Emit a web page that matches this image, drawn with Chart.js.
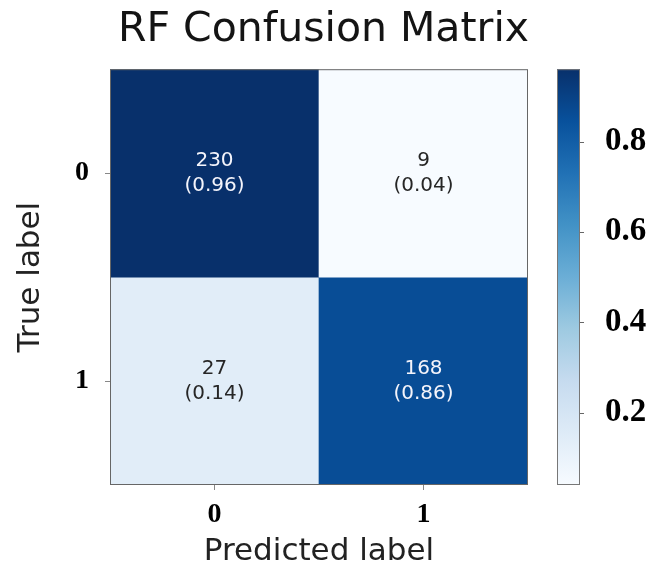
<!DOCTYPE html>
<html>
<head>
<meta charset="utf-8">
<script src="https://cdn.jsdelivr.net/npm/chart.js@4/dist/chart.umd.min.js"></script>
<style>
  html, body { margin: 0; padding: 0; background: #ffffff; }
  canvas { display: block; }
</style>
</head>
<body>
<canvas id="c" width="661" height="570"></canvas>
<script>
// ---- data ----
const chartTitle = 'RF Confusion Matrix';
const predictedLabels = ['0', '1'];
const trueLabels = ['0', '1'];
const countsRow0 = [230, 9];
const countsRow1 = [27, 168];
const ratesRow0 = [0.96, 0.04];
const ratesRow1 = [0.14, 0.86];
const colorbarTicks = [0.2, 0.4, 0.6, 0.8];

const counts = [countsRow0, countsRow1];
const rates = [ratesRow0, ratesRow1];
const allRates = rates.flat();
const vmin = Math.min(...allRates);
const vmax = Math.max(...allRates);

// matplotlib "Blues" colormap stops
const bluesStops = ['#f7fbff', '#deebf7', '#c6dbef', '#9ecae1', '#6baed6', '#4292c6', '#2171b5', '#08519c', '#08306b'];
function hexToRgb(h) { return [parseInt(h.slice(1, 3), 16), parseInt(h.slice(3, 5), 16), parseInt(h.slice(5, 7), 16)]; }
function blues(t) {
  t = Math.max(0, Math.min(1, t));
  const n = bluesStops.length - 1;
  const i = Math.min(n - 1, Math.floor(t * n));
  const f = t * n - i;
  const a = hexToRgb(bluesStops[i]), b = hexToRgb(bluesStops[i + 1]);
  const c = a.map((v, k) => Math.round(v + (b[k] - v) * f));
  return `rgb(${c[0]},${c[1]},${c[2]})`;
}
const norm = v => (v - vmin) / (vmax - vmin);

const datasets = trueLabels.map((lab, r) => ({
  label: 'True ' + lab,
  data: predictedLabels.map(() => [r, r + 1]),
  backgroundColor: rates[r].map(v => blues(norm(v))),
  borderWidth: 0,
  grouped: false,
  barPercentage: 1,
  categoryPercentage: 1,
  yAxisID: 'y'
}));

const cellText = {
  id: 'cellText',
  afterDatasetsDraw(chart) {
    const ctx = chart.ctx;
    ctx.save();
    ctx.font = '20px "DejaVu Sans"';
    ctx.textAlign = 'center';
    ctx.textBaseline = 'middle';
    chart.data.datasets.forEach((ds, r) => {
      const meta = chart.getDatasetMeta(r);
      meta.data.forEach((el, c) => {
        const cy = (el.y + el.base) / 2;
        ctx.fillStyle = norm(rates[r][c]) > 0.5 ? '#f4f4fb' : '#262626';
        ctx.fillText(String(counts[r][c]), el.x, cy - 12.5);
        ctx.fillText('(' + rates[r][c].toFixed(2) + ')', el.x, cy + 12.5);
      });
    });
    // frame
    const a = chart.chartArea;
    ctx.strokeStyle = '#666';
    ctx.lineWidth = 1;
    ctx.strokeRect(a.left + 0.5, a.top + 0.5, a.right - a.left - 1, a.bottom - a.top - 1);
    ctx.restore();
  }
};

const colorbar = {
  id: 'colorbar',
  afterDraw(chart) {
    const s = chart.scales.cb;
    const ctx = chart.ctx;
    const x0 = chart.chartArea.right + 29, x1 = chart.chartArea.right + 52;
    const yTop = s.getPixelForValue(vmax), yBot = s.getPixelForValue(vmin);
    const g = ctx.createLinearGradient(0, yBot, 0, yTop);
    bluesStops.forEach((col, i) => g.addColorStop(i / (bluesStops.length - 1), col));
    ctx.save();
    ctx.fillStyle = g;
    ctx.fillRect(x0, yTop, x1 - x0, yBot - yTop);
    ctx.strokeStyle = '#777';
    ctx.lineWidth = 1;
    ctx.strokeRect(x0 + 0.5, yTop + 0.5, x1 - x0 - 1, yBot - yTop - 1);
    ctx.strokeStyle = '#666';
    colorbarTicks.forEach(v => {
      const y = Math.round(s.getPixelForValue(v)) + 0.5;
      ctx.beginPath();
      ctx.moveTo(x1, y);
      ctx.lineTo(x1 + 4, y);
      ctx.stroke();
    });
    ctx.restore();
  }
};

new Chart(document.getElementById('c'), {
  type: 'bar',
  data: { labels: predictedLabels, datasets },
  plugins: [cellText, colorbar],
  options: {
    responsive: false,
    animation: false,
    layout: { padding: { left: 0, right: 14, top: 0, bottom: 0 } },
    plugins: {
      legend: { display: false },
      tooltip: { enabled: false },
      title: {
        display: true,
        text: chartTitle,
        color: '#141414',
        font: { family: 'DejaVu Sans', size: 41, weight: 'normal', lineHeight: 1.2 },
        padding: { top: 6, bottom: 14 }
      }
    },
    scales: {
      x: {
        type: 'category',
        offset: true,
        grid: { display: true, offset: false, drawOnChartArea: false, drawTicks: true, tickLength: 5, color: '#888' },
        border: { display: false },
        ticks: { color: '#000', padding: 8, font: { family: 'Liberation Serif', size: 28, weight: 'bold' } },
        title: {
          display: true, text: 'Predicted label', color: '#222',
          font: { family: 'DejaVu Sans', size: 31, weight: 'normal', lineHeight: 1.2 },
          padding: { top: 0, bottom: -1 }
        },
        afterFit(scale) { scale.height = 85; }
      },
      y: {
        type: 'linear',
        position: 'left',
        min: 0, max: trueLabels.length,
        reverse: true,
        afterBuildTicks(scale) { scale.ticks = trueLabels.map((_, i) => ({ value: i + 0.5 })); },
        grid: { display: true, drawOnChartArea: false, drawTicks: true, tickLength: 5, color: '#888' },
        border: { display: false },
        ticks: {
          color: '#000', padding: 16,
          font: { family: 'Liberation Serif', size: 28, weight: 'bold' },
          callback: (v, i) => trueLabels[i]
        },
        title: {
          display: true, text: 'True label', color: '#222',
          font: { family: 'DejaVu Sans', size: 31, weight: 'normal', lineHeight: 1.2 },
          padding: { top: 12, bottom: 0 }
        },
        afterFit(scale) { scale.width = 110; }
      },
      cb: {
        type: 'linear',
        position: 'right',
        min: vmin, max: vmax,
        afterBuildTicks(scale) { scale.ticks = colorbarTicks.map(v => ({ value: v })); },
        grid: { display: false, drawTicks: true, tickLength: 77 },
        border: { display: false },
        ticks: {
          color: '#000', padding: 0,
          font: { family: 'Liberation Serif', size: 33, weight: 'bold' },
          callback: v => v.toFixed(1)
        },
        afterFit(scale) { scale.width = 119; }
      }
    }
  }
});
</script>
</body>
</html>
